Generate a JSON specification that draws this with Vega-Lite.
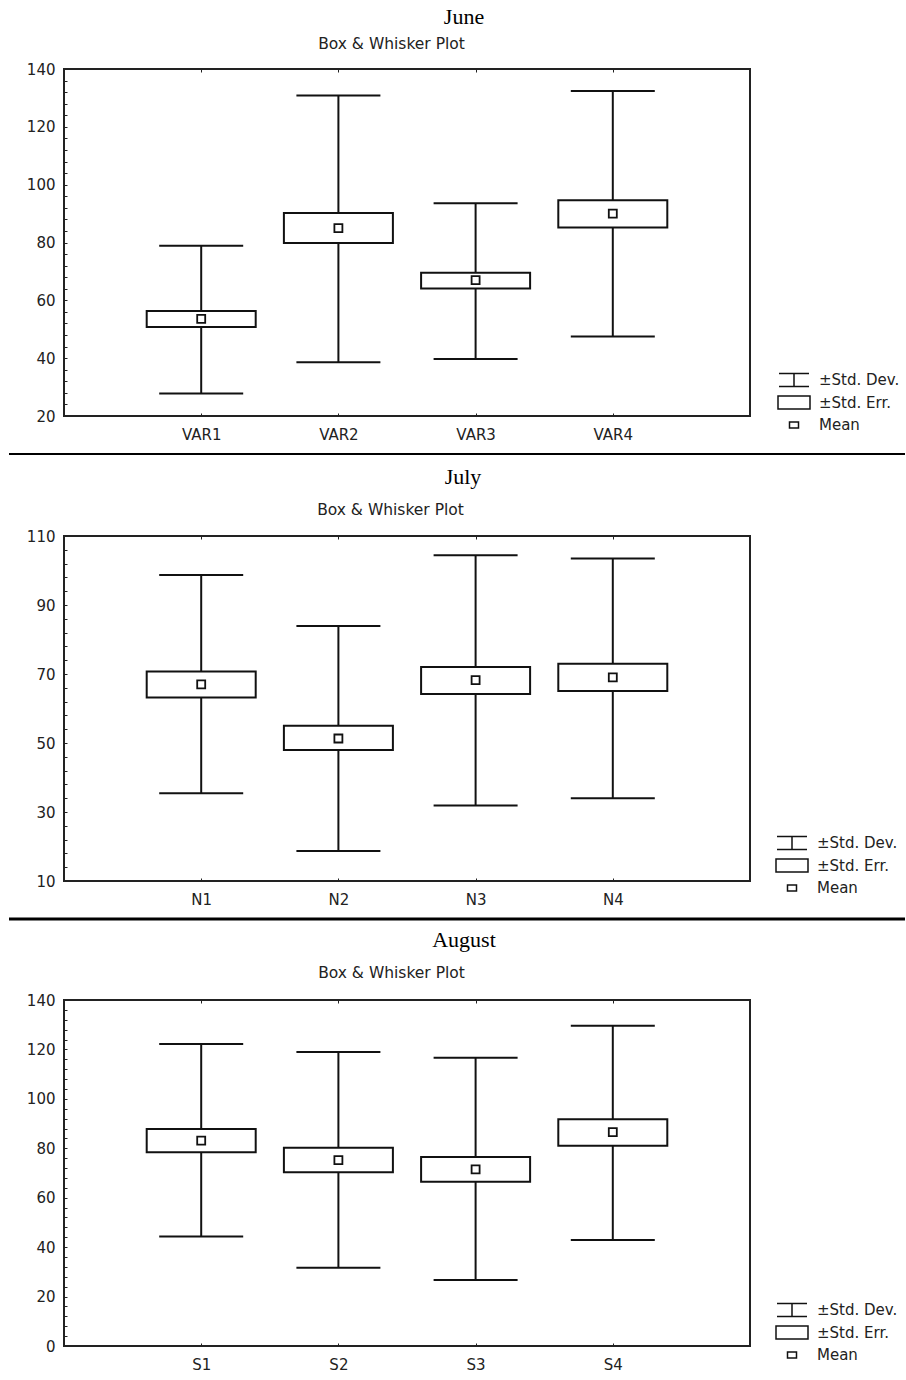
{
  "$schema": "https://vega.github.io/schema/vega-lite/v6.json",
  "padding": {"left": 7, "top": 5, "right": 0, "bottom": 5},
  "background": "white",
  "bounds": "flush",
  "spacing": 38,
  "resolve": {"scale": {"shape": "independent"}, "legend": {"shape": "independent"}},
  "config": {
    "view": {"stroke": "#222", "strokeWidth": 2},
    "axis": {"labelFont": "DejaVu Sans", "labelFontSize": 15, "labelColor": "#222", "tickColor": "#222", "domain": false, "grid": false, "labelOverlap": false, "labelFlush": false},
    "legend": {"labelFont": "DejaVu Sans", "labelFontSize": 15, "labelColor": "#222"}
  },
  "datasets": {
    "stats": [
      {"m": "June", "v": "VAR1", "stat": "±Std. Dev.", "lo": 27.8, "hi": 78.9},
      {"m": "June", "v": "VAR1", "stat": "±Std. Err.", "lo": 50.8, "hi": 56.3},
      {"m": "June", "v": "VAR1", "stat": "Mean", "lo": 53.6, "hi": 53.6},
      {"m": "June", "v": "VAR2", "stat": "±Std. Dev.", "lo": 38.6, "hi": 130.8},
      {"m": "June", "v": "VAR2", "stat": "±Std. Err.", "lo": 79.8, "hi": 90.2},
      {"m": "June", "v": "VAR2", "stat": "Mean", "lo": 85, "hi": 85},
      {"m": "June", "v": "VAR3", "stat": "±Std. Dev.", "lo": 39.7, "hi": 93.6},
      {"m": "June", "v": "VAR3", "stat": "±Std. Err.", "lo": 64.1, "hi": 69.5},
      {"m": "June", "v": "VAR3", "stat": "Mean", "lo": 67, "hi": 67},
      {"m": "June", "v": "VAR4", "stat": "±Std. Dev.", "lo": 47.5, "hi": 132.4},
      {"m": "June", "v": "VAR4", "stat": "±Std. Err.", "lo": 85.2, "hi": 94.6},
      {"m": "June", "v": "VAR4", "stat": "Mean", "lo": 90, "hi": 90},
      {"m": "July", "v": "N1", "stat": "±Std. Dev.", "lo": 35.4, "hi": 98.7},
      {"m": "July", "v": "N1", "stat": "±Std. Err.", "lo": 63.2, "hi": 70.7},
      {"m": "July", "v": "N1", "stat": "Mean", "lo": 67, "hi": 67},
      {"m": "July", "v": "N2", "stat": "±Std. Dev.", "lo": 18.7, "hi": 83.9},
      {"m": "July", "v": "N2", "stat": "±Std. Err.", "lo": 48, "hi": 55},
      {"m": "July", "v": "N2", "stat": "Mean", "lo": 51.3, "hi": 51.3},
      {"m": "July", "v": "N3", "stat": "±Std. Dev.", "lo": 31.9, "hi": 104.4},
      {"m": "July", "v": "N3", "stat": "±Std. Err.", "lo": 64.2, "hi": 72},
      {"m": "July", "v": "N3", "stat": "Mean", "lo": 68.2, "hi": 68.2},
      {"m": "July", "v": "N4", "stat": "±Std. Dev.", "lo": 34, "hi": 103.5},
      {"m": "July", "v": "N4", "stat": "±Std. Err.", "lo": 65.1, "hi": 73},
      {"m": "July", "v": "N4", "stat": "Mean", "lo": 69, "hi": 69},
      {"m": "August", "v": "S1", "stat": "±Std. Dev.", "lo": 44.3, "hi": 122.2},
      {"m": "August", "v": "S1", "stat": "±Std. Err.", "lo": 78.4, "hi": 87.8},
      {"m": "August", "v": "S1", "stat": "Mean", "lo": 83.1, "hi": 83.1},
      {"m": "August", "v": "S2", "stat": "±Std. Dev.", "lo": 31.7, "hi": 119},
      {"m": "August", "v": "S2", "stat": "±Std. Err.", "lo": 70.3, "hi": 80.2},
      {"m": "August", "v": "S2", "stat": "Mean", "lo": 75.2, "hi": 75.2},
      {"m": "August", "v": "S3", "stat": "±Std. Dev.", "lo": 26.7, "hi": 116.6},
      {"m": "August", "v": "S3", "stat": "±Std. Err.", "lo": 66.5, "hi": 76.5},
      {"m": "August", "v": "S3", "stat": "Mean", "lo": 71.5, "hi": 71.5},
      {"m": "August", "v": "S4", "stat": "±Std. Dev.", "lo": 42.9, "hi": 129.6},
      {"m": "August", "v": "S4", "stat": "±Std. Err.", "lo": 81, "hi": 91.7},
      {"m": "August", "v": "S4", "stat": "Mean", "lo": 86.5, "hi": 86.5}
    ]
  },
  "vconcat": [
    {
      "title": {"text": "June", "font": "Liberation Serif", "fontSize": 22, "fontWeight": "normal", "color": "black", "anchor": "middle", "dx": 57, "offset": 7},
      "width": 686, "height": 347,
      "data": {"name": "stats"},
      "transform": [{"filter": "datum.m === 'June'"}],
      "layer": [
        {"transform": [{"filter": "datum.stat === '±Std. Dev.'"}], "mark": {"type": "rule", "color": "#111", "strokeWidth": 2},
         "encoding": {"x": {"field": "v", "type": "nominal", "scale": {"type": "point", "padding": 1}, "axis": {"orient": "bottom", "title": null, "labelAngle": 0, "tickSize": -3, "labelPadding": 14}},
                      "y": {"field": "lo", "type": "quantitative", "scale": {"domain": [20, 140], "nice": false, "zero": false}, "axis": {"orient": "left", "title": null, "values": [20,24,28,32,36,40,44,48,52,56,60,64,68,72,76,80,84,88,92,96,100,104,108,112,116,120,124,128,132,136,140], "tickCount": 200, "format": "d", "labelExpr": "datum.value % 20 === 0 ? datum.label : ''", "tickSize": -3, "labelPadding": 12, "labelOverlap": false}},
                      "y2": {"field": "hi"}}},
        {"transform": [{"filter": "datum.stat === '±Std. Dev.'"}], "mark": {"type": "tick", "orient": "horizontal", "size": 84, "thickness": 2, "color": "#111", "opacity": 1},
         "encoding": {"x": {"field": "v", "type": "nominal", "axis": null}, "y": {"field": "lo", "type": "quantitative"}}},
        {"transform": [{"filter": "datum.stat === '±Std. Dev.'"}], "mark": {"type": "tick", "orient": "horizontal", "size": 84, "thickness": 2, "color": "#111", "opacity": 1},
         "encoding": {"x": {"field": "v", "type": "nominal", "axis": null}, "y": {"field": "hi", "type": "quantitative"}}},
        {"transform": [{"filter": "datum.stat === '±Std. Err.'"}], "mark": {"type": "bar", "size": 109, "fill": "white", "stroke": "#111", "strokeWidth": 2, "opacity": 1},
         "encoding": {"x": {"field": "v", "type": "nominal", "axis": {"orient": "top", "labels": false, "tickSize": -3, "title": "Box & Whisker Plot", "titleFont": "DejaVu Sans", "titleFontSize": 15.5, "titleFontWeight": "normal", "titleColor": "#222", "titleX": 327, "titleY": -21, "titleBaseline": "alphabetic", "titleAlign": "center"}},
                      "y": {"field": "lo", "type": "quantitative"}, "y2": {"field": "hi"}}},
        {"transform": [{"filter": "datum.stat === 'Mean'"}], "mark": {"type": "point", "shape": "square", "size": 64, "filled": false, "stroke": "#111", "strokeWidth": 1.8, "opacity": 1},
         "encoding": {"x": {"field": "v", "type": "nominal", "axis": null}, "y": {"field": "lo", "type": "quantitative"}}},
        {"mark": {"type": "point", "opacity": 0, "size": 400, "filled": false, "stroke": "#111", "strokeWidth": 1.5},
         "encoding": {"x": {"field": "v", "type": "nominal", "axis": null}, "y": {"field": "lo", "type": "quantitative"},
                      "shape": {"field": "stat", "type": "nominal",
                                "scale": {"domain": ["±Std. Dev.", "±Std. Err.", "Mean"], "range": ["M-1.5,-0.65H1.5M0,-0.65V0.65M-1.5,0.65H1.5", "M-1.6,-0.65H1.6V0.65H-1.6Z", "M-0.45,-0.3H0.45V0.3H-0.45Z"]},
                                "legend": {"title": null, "orient": "none", "legendX": 719, "legendY": 300, "labelOffset": 14, "rowPadding": 1.5, "symbolSize": 400, "symbolStrokeColor": "#111", "symbolFillColor": "white", "symbolStrokeWidth": 1.5, "symbolOpacity": 1, "padding": 0}}}}
      ]
    },
    {
      "width": 686, "height": 44,
      "view": {"stroke": null},
      "data": {"values": [{}]},
      "mark": {"type": "rule", "color": "black", "strokeWidth": 2},
      "encoding": {"x": {"datum": -55, "type": "quantitative", "scale": {"domain": [0, 686], "nice": false, "zero": false}, "axis": null}, "x2": {"datum": 841},
                   "y": {"datum": 1, "type": "quantitative", "scale": {"domain": [0, 1], "nice": false}, "axis": null}}
    },
    {
      "title": {"text": "July", "font": "Liberation Serif", "fontSize": 22, "fontWeight": "normal", "color": "black", "anchor": "middle", "dx": 56, "offset": 13},
      "width": 686, "height": 345,
      "data": {"name": "stats"},
      "transform": [{"filter": "datum.m === 'July'"}],
      "layer": [
        {"transform": [{"filter": "datum.stat === '±Std. Dev.'"}], "mark": {"type": "rule", "color": "#111", "strokeWidth": 2},
         "encoding": {"x": {"field": "v", "type": "nominal", "scale": {"type": "point", "padding": 1}, "axis": {"orient": "bottom", "title": null, "labelAngle": 0, "tickSize": -3, "labelPadding": 14}},
                      "y": {"field": "lo", "type": "quantitative", "scale": {"domain": [10, 110], "nice": false, "zero": false}, "axis": {"orient": "left", "title": null, "values": [10,14,18,22,26,30,34,38,42,46,50,54,58,62,66,70,74,78,82,86,90,94,98,102,106,110], "tickCount": 200, "format": "d", "labelExpr": "(datum.value - 10) % 20 === 0 ? datum.label : ''", "tickSize": -3, "labelPadding": 12, "labelOverlap": false}},
                      "y2": {"field": "hi"}}},
        {"transform": [{"filter": "datum.stat === '±Std. Dev.'"}], "mark": {"type": "tick", "orient": "horizontal", "size": 84, "thickness": 2, "color": "#111", "opacity": 1},
         "encoding": {"x": {"field": "v", "type": "nominal", "axis": null}, "y": {"field": "lo", "type": "quantitative"}}},
        {"transform": [{"filter": "datum.stat === '±Std. Dev.'"}], "mark": {"type": "tick", "orient": "horizontal", "size": 84, "thickness": 2, "color": "#111", "opacity": 1},
         "encoding": {"x": {"field": "v", "type": "nominal", "axis": null}, "y": {"field": "hi", "type": "quantitative"}}},
        {"transform": [{"filter": "datum.stat === '±Std. Err.'"}], "mark": {"type": "bar", "size": 109, "fill": "white", "stroke": "#111", "strokeWidth": 2, "opacity": 1},
         "encoding": {"x": {"field": "v", "type": "nominal", "axis": {"orient": "top", "labels": false, "tickSize": -3, "title": "Box & Whisker Plot", "titleFont": "DejaVu Sans", "titleFontSize": 15.5, "titleFontWeight": "normal", "titleColor": "#222", "titleX": 326, "titleY": -22, "titleBaseline": "alphabetic", "titleAlign": "center"}},
                      "y": {"field": "lo", "type": "quantitative"}, "y2": {"field": "hi"}}},
        {"transform": [{"filter": "datum.stat === 'Mean'"}], "mark": {"type": "point", "shape": "square", "size": 64, "filled": false, "stroke": "#111", "strokeWidth": 1.8, "opacity": 1},
         "encoding": {"x": {"field": "v", "type": "nominal", "axis": null}, "y": {"field": "lo", "type": "quantitative"}}},
        {"mark": {"type": "point", "opacity": 0, "size": 400, "filled": false, "stroke": "#111", "strokeWidth": 1.5},
         "encoding": {"x": {"field": "v", "type": "nominal", "axis": null}, "y": {"field": "lo", "type": "quantitative"},
                      "shape": {"field": "stat", "type": "nominal",
                                "scale": {"domain": ["±Std. Dev.", "±Std. Err.", "Mean"], "range": ["M-1.5,-0.65H1.5M0,-0.65V0.65M-1.5,0.65H1.5", "M-1.6,-0.65H1.6V0.65H-1.6Z", "M-0.45,-0.3H0.45V0.3H-0.45Z"]},
                                "legend": {"title": null, "orient": "none", "legendX": 717, "legendY": 296, "labelOffset": 14, "rowPadding": 1.5, "symbolSize": 400, "symbolStrokeColor": "#111", "symbolFillColor": "white", "symbolStrokeWidth": 1.5, "symbolOpacity": 1, "padding": 0}}}}
      ]
    },
    {
      "width": 686, "height": 43,
      "view": {"stroke": null},
      "data": {"values": [{}]},
      "mark": {"type": "rule", "color": "black", "strokeWidth": 3},
      "encoding": {"x": {"datum": -55, "type": "quantitative", "scale": {"domain": [0, 686], "nice": false, "zero": false}, "axis": null}, "x2": {"datum": 841},
                   "y": {"datum": 1, "type": "quantitative", "scale": {"domain": [0, 1], "nice": false}, "axis": null}}
    },
    {
      "title": {"text": "August", "font": "Liberation Serif", "fontSize": 22, "fontWeight": "normal", "color": "black", "anchor": "middle", "dx": 57, "offset": 13},
      "width": 686, "height": 346,
      "data": {"name": "stats"},
      "transform": [{"filter": "datum.m === 'August'"}],
      "layer": [
        {"transform": [{"filter": "datum.stat === '±Std. Dev.'"}], "mark": {"type": "rule", "color": "#111", "strokeWidth": 2},
         "encoding": {"x": {"field": "v", "type": "nominal", "scale": {"type": "point", "padding": 1}, "axis": {"orient": "bottom", "title": null, "labelAngle": 0, "tickSize": -3, "labelPadding": 14}},
                      "y": {"field": "lo", "type": "quantitative", "scale": {"domain": [0, 140], "nice": false, "zero": false}, "axis": {"orient": "left", "title": null, "values": [0,4,8,12,16,20,24,28,32,36,40,44,48,52,56,60,64,68,72,76,80,84,88,92,96,100,104,108,112,116,120,124,128,132,136,140], "tickCount": 200, "format": "d", "labelExpr": "datum.value % 20 === 0 ? datum.label : ''", "tickSize": -3, "labelPadding": 12, "labelOverlap": false}},
                      "y2": {"field": "hi"}}},
        {"transform": [{"filter": "datum.stat === '±Std. Dev.'"}], "mark": {"type": "tick", "orient": "horizontal", "size": 84, "thickness": 2, "color": "#111", "opacity": 1},
         "encoding": {"x": {"field": "v", "type": "nominal", "axis": null}, "y": {"field": "lo", "type": "quantitative"}}},
        {"transform": [{"filter": "datum.stat === '±Std. Dev.'"}], "mark": {"type": "tick", "orient": "horizontal", "size": 84, "thickness": 2, "color": "#111", "opacity": 1},
         "encoding": {"x": {"field": "v", "type": "nominal", "axis": null}, "y": {"field": "hi", "type": "quantitative"}}},
        {"transform": [{"filter": "datum.stat === '±Std. Err.'"}], "mark": {"type": "bar", "size": 109, "fill": "white", "stroke": "#111", "strokeWidth": 2, "opacity": 1},
         "encoding": {"x": {"field": "v", "type": "nominal", "axis": {"orient": "top", "labels": false, "tickSize": -3, "title": "Box & Whisker Plot", "titleFont": "DejaVu Sans", "titleFontSize": 15.5, "titleFontWeight": "normal", "titleColor": "#222", "titleX": 327, "titleY": -23, "titleBaseline": "alphabetic", "titleAlign": "center"}},
                      "y": {"field": "lo", "type": "quantitative"}, "y2": {"field": "hi"}}},
        {"transform": [{"filter": "datum.stat === 'Mean'"}], "mark": {"type": "point", "shape": "square", "size": 64, "filled": false, "stroke": "#111", "strokeWidth": 1.8, "opacity": 1},
         "encoding": {"x": {"field": "v", "type": "nominal", "axis": null}, "y": {"field": "lo", "type": "quantitative"}}},
        {"mark": {"type": "point", "opacity": 0, "size": 400, "filled": false, "stroke": "#111", "strokeWidth": 1.5},
         "encoding": {"x": {"field": "v", "type": "nominal", "axis": null}, "y": {"field": "lo", "type": "quantitative"},
                      "shape": {"field": "stat", "type": "nominal",
                                "scale": {"domain": ["±Std. Dev.", "±Std. Err.", "Mean"], "range": ["M-1.5,-0.65H1.5M0,-0.65V0.65M-1.5,0.65H1.5", "M-1.6,-0.65H1.6V0.65H-1.6Z", "M-0.45,-0.3H0.45V0.3H-0.45Z"]},
                                "legend": {"title": null, "orient": "none", "legendX": 717, "legendY": 299, "labelOffset": 14, "rowPadding": 1.5, "symbolSize": 400, "symbolStrokeColor": "#111", "symbolFillColor": "white", "symbolStrokeWidth": 1.5, "symbolOpacity": 1, "padding": 0}}}}
      ]
    }
  ]
}
